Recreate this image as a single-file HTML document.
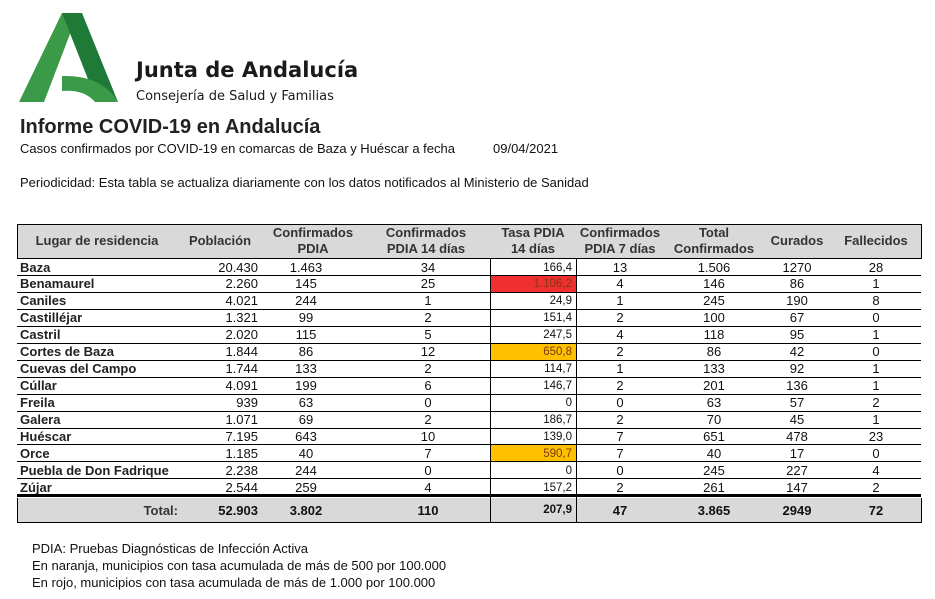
<!DOCTYPE html>
<html><head><meta charset="utf-8">
<style>
body{margin:0;width:935px;height:599px;background:#fff;position:relative;overflow:hidden;font-family:"Liberation Sans",Arial,sans-serif;color:#111}
.a{position:absolute;white-space:nowrap}
.c{position:absolute;font-size:13px;line-height:17px;height:17px}
</style></head><body>
<svg class="a" style="left:0;top:0" width="130" height="110">
<polygon points="19,102 62,13 78,13 44,102" fill="#3a9a48"/>
<polygon points="62,13 82,13 118,102 97,102" fill="#1f7a38"/>
<path d="M62,76 Q102,75 118,102 L95,102 Q84,89 62,91 Z" fill="#3a9a48"/>
</svg>
<div class="a" style="left:136px;top:58px;font-size:21px;font-weight:bold;font-family:'DejaVu Sans',sans-serif;color:#1a1a1a">Junta de Andalucía</div>
<div class="a" style="left:136px;top:89px;font-size:13px;font-family:'DejaVu Sans',sans-serif;color:#1a1a1a">Consejería de Salud y Familias</div>
<div class="a" style="left:20px;top:116px;font-size:20px;font-weight:bold;color:#222">Informe COVID-19 en Andalucía</div>
<div class="a" style="left:20px;top:141px;font-size:13px">Casos confirmados por COVID-19 en comarcas de Baza y Huéscar a fecha</div>
<div class="a" style="left:493px;top:141px;font-size:13px">09/04/2021</div>
<div class="a" style="left:20px;top:175px;font-size:13px">Periodicidad: Esta tabla se actualiza diariamente con los datos notificados al Ministerio de Sanidad</div>

<div class="a" style="left:17px;top:224px;width:903px;height:34px;background:#d9d9d9;border:1px solid #000;border-bottom:none"></div>
<div class="a" style="left:17px;top:498px;width:903px;height:24px;background:#d9d9d9;border:1px solid #000;border-top:none"></div>
<div id="t"></div>
<div class="a" style="left:32px;top:541px;font-size:13px">PDIA: Pruebas Diagnósticas de Infección Activa</div>
<div class="a" style="left:32px;top:558px;font-size:13px">En  naranja, municipios con tasa acumulada de más de 500 por 100.000</div>
<div class="a" style="left:32px;top:575px;font-size:13px">En rojo, municipios con tasa acumulada de más de 1.000 por 100.000</div>
<script>
const places=["Baza","Benamaurel","Caniles","Castilléjar","Castril","Cortes de Baza","Cuevas del Campo","Cúllar","Freila","Galera","Huéscar","Orce","Puebla de Don Fadrique","Zújar"];
const poblacion=["20.430","2.260","4.021","1.321","2.020","1.844","1.744","4.091","939","1.071","7.195","1.185","2.238","2.544"];
const confPdia=["1.463","145","244","99","115","86","133","199","63","69","643","40","244","259"];
const conf14=["34","25","1","2","5","12","2","6","0","2","10","7","0","4"];
const tasa=["166,4","1.106,2","24,9","151,4","247,5","650,8","114,7","146,7","0","186,7","139,0","590,7","0","157,2"];
const tasaNum=[166.4,1106.2,24.9,151.4,247.5,650.8,114.7,146.7,0,186.7,139.0,590.7,0,157.2];
const conf7=["13","4","1","2","4","2","1","2","0","2","7","7","0","2"];
const totalConf=["1.506","146","245","100","118","86","133","201","63","70","651","40","245","261"];
const curados=["1270","86","190","67","95","42","92","136","57","45","478","17","227","147"];
const fallecidos=["28","1","8","0","1","0","1","1","2","1","23","0","4","2"];
const totals=["52.903","3.802","110","207,9","47","3.865","2949","72"];
const headers=[["Lugar de residencia"],["Población"],["Confirmados","PDIA"],["Confirmados","PDIA 14 días"],["Tasa PDIA","14 días"],["Confirmados","PDIA 7 días"],["Total","Confirmados"],["Curados"],["Fallecidos"]];
const t=document.getElementById('t');
function add(html,style,name){const d=document.createElement('div');d.className='c';d.innerHTML=html;d.style.cssText=style;


t.appendChild(d);return d;}
const hc=[[97,0],[220,0],[313,0],[426,0],[533,0],[620,0],[714,0],[797,0],[876,0]];
headers.forEach((h,i)=>{add(h.join('<br>'),`left:${hc[i][0]-70}px;width:140px;text-align:center;top:${h.length>1?225:233}px;font-weight:bold;color:#333;line-height:16px;height:32px`,'header-cell');});
const top0=258,rh=16.95;
add('',`left:490px;top:258px;width:1px;height:264px;background:#000`,'tasa-left-border');
add('',`left:576px;top:258px;width:1px;height:264px;background:#000`,'tasa-right-border');
places.forEach((p,i)=>{
 const y=top0+i*rh;
 add('',`left:17px;top:${y}px;width:904px;height:1px;background:#000`,'row-divider');
 const bg=tasaNum[i]>1000?'#f03030':tasaNum[i]>500?'#ffc000':'';
 if(bg) add('',`left:491px;top:${y+1}px;width:85px;height:${rh-1}px;background:${bg}`,'tasa-highlight');
 const ty=y+0.5;
 add(p,`left:20px;top:${ty}px;font-weight:bold;color:#222`,'place-name');
 add(poblacion[i],`left:180px;width:78px;text-align:right;top:${ty}px`,'poblacion-value');
 add(confPdia[i],`left:266px;width:80px;text-align:center;top:${ty}px`,'conf-pdia-value');
 add(conf14[i],`left:388px;width:80px;text-align:center;top:${ty}px`,'conf-14-value');
 add(tasa[i],`left:492px;width:80px;text-align:right;top:${ty+1}px;font-size:11.5px;color:${bg?'#7a3a10':'#111'}`,'tasa-value');
 add(conf7[i],`left:580px;width:80px;text-align:center;top:${ty}px`,'conf-7-value');
 add(totalConf[i],`left:674px;width:80px;text-align:center;top:${ty}px`,'total-conf-value');
 add(curados[i],`left:757px;width:80px;text-align:center;top:${ty}px`,'curados-value');
 add(fallecidos[i],`left:836px;width:80px;text-align:center;top:${ty}px`,'fallecidos-value');
});
const yb=top0+places.length*rh;
add('',`left:17px;top:${yb-1}px;width:904px;height:3px;background:#000`,'total-divider');
const ty=502;
add('Total:',`left:100px;width:78px;text-align:right;top:${ty}px;color:#333;font-weight:bold`,'total-label');
const tx=[[180,'right',78],[266,'center',80],[388,'center',80],[492,'right',80],[580,'center',80],[674,'center',80],[757,'center',80],[836,'center',80]];
totals.forEach((v,i)=>{add(v,`left:${tx[i][0]}px;width:${tx[i][2]}px;text-align:${tx[i][1]};top:${ty}px;font-weight:bold;${i==3?'font-size:11.5px;':''}`,'total-value');});
</script>
</body></html>
